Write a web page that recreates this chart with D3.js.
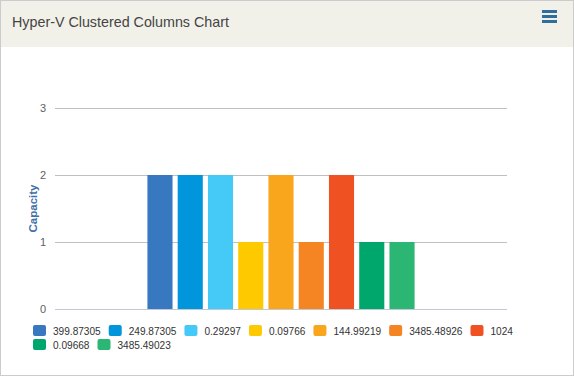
<!DOCTYPE html>
<html>
<head>
<meta charset="utf-8">
<script src="https://cdn.jsdelivr.net/npm/d3@7"></script>
<style>
  html, body { margin: 0; padding: 0; background: #fff; }
  svg { display: block; font-family: "Liberation Sans", Arial, sans-serif; }
</style>
</head>
<body>
<svg id="chart" width="574" height="376"></svg>
<script>
// Daten: eine Kategorie, neun Reihen
var seriesNames = ["399.87305", "249.87305", "0.29297", "0.09766", "144.99219",
                   "3485.48926", "1024", "0.09668", "3485.49023"];
var seriesValues = [2, 2, 2, 1, 2, 1, 2, 1, 1];
var seriesColors = ["#3778c0", "#0195db", "#45c9f6", "#ffc900", "#f9a61c",
                    "#f58423", "#f05123", "#00a76d", "#2bb673"];
var categories = ["Capacity"];
var yTicks = [0, 1, 2, 3];

var W = 574, H = 376;
var svg = d3.select("#chart");

// Rahmen und Kopfzeile
svg.append("rect").attr("x", 0.5).attr("y", 0.5).attr("width", W - 1).attr("height", H - 1)
  .attr("fill", "#fff").attr("stroke", "#cccccc");
svg.append("rect").attr("x", 1).attr("y", 1).attr("width", W - 2).attr("height", 46)
  .attr("fill", "#f2f1e9");
svg.append("text").attr("x", 12).attr("y", 27)
  .attr("font-size", 14.3).attr("fill", "#444")
  .text("Hyper-V Clustered Columns Chart");

// Menü-Symbol
[10, 15, 20].forEach(function(y) {
  svg.append("rect").attr("x", 542).attr("y", y).attr("width", 15).attr("height", 3)
    .attr("fill", "#2e6f9e");
});

var plot = { left: 55, right: 507, top: 108, bottom: 309 };

var y = d3.scaleLinear().domain([0, 3]).range([plot.bottom, plot.top]);
var x0 = d3.scaleBand().domain(categories).range([plot.left, plot.right])
  .paddingInner(0).paddingOuter(0.33);
var x1 = d3.scaleBand().domain(seriesNames).range([0, x0.bandwidth()])
  .paddingInner(0.17).paddingOuter(0.085);

// Gitterlinien
var yAxis = d3.axisLeft(y).tickValues(yTicks)
  .tickSize(-(plot.right - plot.left)).tickPadding(9).tickFormat(d3.format("d"));
var gy = svg.append("g").attr("transform", "translate(" + plot.left + ",0)").call(yAxis);
gy.select(".domain").remove();
gy.selectAll(".tick line").attr("stroke", "#c0c0c0");
gy.selectAll(".tick text").attr("fill", "#606060").attr("font-size", 11)
  .attr("font-family", "Liberation Sans, Arial, sans-serif");
gy.selectAll(".tick").filter(function(d) { return d === 0; }).select("line")
  .attr("stroke", "#c0c8d4");

// Achsentitel
svg.append("text")
  .attr("transform", "translate(36.5," + ((plot.top + plot.bottom) / 2) + ") rotate(-90)")
  .attr("text-anchor", "middle").attr("font-size", 11.5).attr("font-weight", "bold")
  .attr("fill", "#4170a6").text("Capacity");

// Säulen
var g = svg.append("g").attr("transform", "translate(" + x0(categories[0]) + ",0)");
g.selectAll("rect").data(seriesNames).enter().append("rect")
  .attr("x", function(d) { return x1(d); })
  .attr("y", function(d, i) { return y(seriesValues[i]); })
  .attr("width", x1.bandwidth())
  .attr("height", function(d, i) { return y(0) - y(seriesValues[i]); })
  .attr("fill", function(d, i) { return seriesColors[i]; });

// Legende
var legend = svg.append("g").attr("font-size", 10.1).attr("fill", "#333");
var lx = 33, ly = 331, maxX = 560;
seriesNames.forEach(function(name, i) {
  var item = legend.append("g");
  item.append("rect").attr("width", 13).attr("height", 11).attr("rx", 2)
    .attr("fill", seriesColors[i]).attr("y", -6);
  var t = item.append("text").attr("x", 20).attr("y", 4).text(name);
  var w = 20 + t.node().getComputedTextLength() + 8;
  if (lx + w - 8 > maxX && lx > 33) { lx = 33; ly += 14; }
  item.attr("transform", "translate(" + lx + "," + ly + ")");
  lx += w;
});
</script>
</body>
</html>
